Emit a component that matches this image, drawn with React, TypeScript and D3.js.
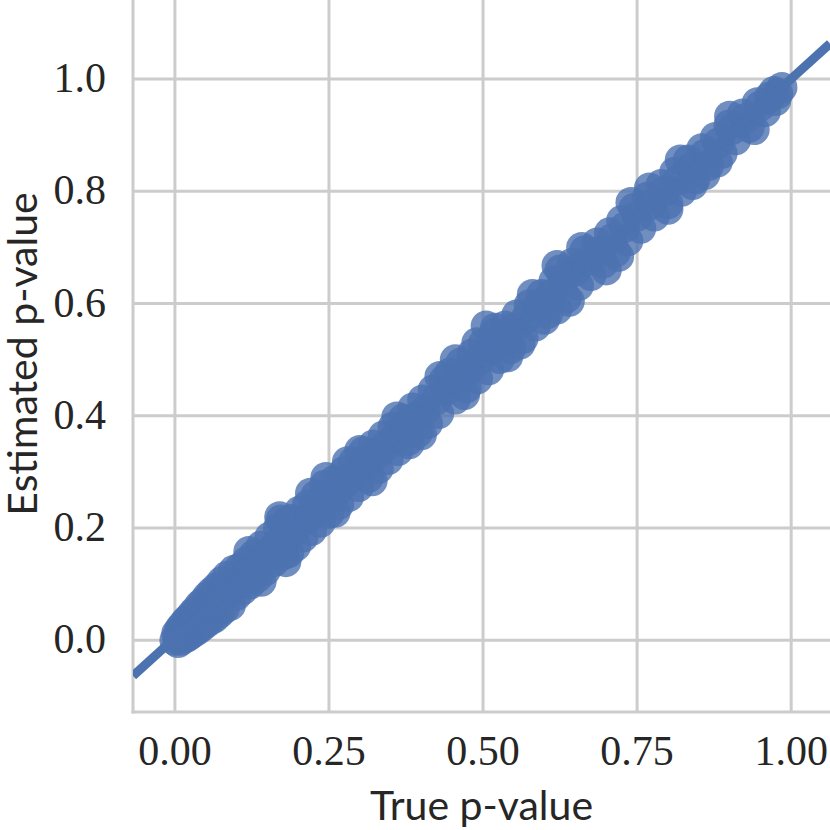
import React from "react";
import * as d3 from "d3";

const trueP = [0.000,0.003,0.005,0.008,0.010,0.012,0.015,0.018,0.020,0.022,0.025,0.028,0.030,0.033,0.036,0.040,0.043,0.046,0.050,0.053,0.057,0.060,0.064,0.068,0.072,0.076,0.080,0.085,0.090,0.095,0.100,0.105,0.110,0.116,0.122,0.128,0.134,0.140,0.147,0.154,0.161,0.168,0.172,0.176,0.180,0.185,0.190,0.196,0.202,0.208,0.215,0.222,0.229,0.236,0.243,0.250,0.258,0.266,0.274,0.282,0.290,0.298,0.306,0.314,0.322,0.330,0.338,0.346,0.354,0.362,0.370,0.378,0.386,0.394,0.402,0.410,0.419,0.428,0.437,0.446,0.455,0.464,0.473,0.482,0.491,0.500,0.509,0.518,0.527,0.536,0.545,0.555,0.565,0.575,0.585,0.595,0.605,0.615,0.625,0.635,0.645,0.655,0.665,0.675,0.685,0.695,0.705,0.715,0.725,0.735,0.745,0.756,0.767,0.778,0.789,0.800,0.811,0.822,0.833,0.844,0.855,0.866,0.877,0.888,0.899,0.910,0.921,0.932,0.945,0.958,0.972,0.978,
  0.006,0.014,0.024,0.034,0.045,0.055,0.066,0.078,0.088,0.098,0.108,0.119,0.131,0.143,0.157,0.165,0.178,0.193,0.205,0.219,0.233,0.247,0.262,0.278,0.294,0.310,0.326,0.342,0.358,0.374,0.390,0.406,0.424,0.441,0.459,0.477,0.495,0.513,0.531,0.550,0.570,0.590,0.610,0.630,0.650,0.670,0.690,0.710,0.730,0.750,0.772,0.794,0.816,0.838,0.860,0.882,0.904,0.926,0.950,0.965,
  0.180,0.170,0.245,0.455,0.505,0.600,0.540,0.700,0.620,0.860,0.975,0.985,
  0.120,0.140,0.220,0.260,0.300,0.320,0.360,0.400,0.430,0.470,0.520,0.560,0.580,0.640,0.660,0.720,0.740,0.800,0.820,0.880,0.900,0.940,0.280,0.380,0.490,0.620,0.770,0.840];

const estP = [0.000,0.012,-0.004,0.020,0.000,0.026,0.004,0.034,0.006,0.038,0.010,0.046,0.014,0.052,0.018,0.062,0.024,0.068,0.030,0.078,0.036,0.086,0.040,0.094,0.048,0.104,0.056,0.114,0.062,0.124,0.080,0.128,0.090,0.140,0.100,0.152,0.112,0.168,0.124,0.184,0.140,0.200,0.214,0.152,0.210,0.156,0.215,0.168,0.230,0.184,0.240,0.196,0.258,0.210,0.276,0.226,0.284,0.242,0.300,0.256,0.318,0.274,0.336,0.290,0.348,0.306,0.364,0.322,0.380,0.338,0.394,0.356,0.414,0.370,0.428,0.386,0.446,0.404,0.464,0.476,0.430,0.494,0.450,0.510,0.466,0.528,0.482,0.546,0.502,0.560,0.520,0.580,0.538,0.598,0.560,0.616,0.582,0.640,0.660,0.610,0.672,0.632,0.694,0.650,0.708,0.672,0.726,0.692,0.748,0.712,0.770,0.734,0.790,0.756,0.812,0.778,0.834,0.800,0.856,0.822,0.876,0.846,0.896,0.868,0.918,0.892,0.938,0.914,0.958,0.942,0.978,0.974,
  0.010,0.012,0.022,0.036,0.044,0.058,0.066,0.080,0.092,0.096,0.112,0.120,0.134,0.146,0.160,0.170,0.182,0.194,0.212,0.222,0.238,0.252,0.266,0.282,0.300,0.316,0.330,0.346,0.362,0.380,0.396,0.410,0.428,0.446,0.464,0.482,0.500,0.520,0.536,0.556,0.574,0.596,0.616,0.640,0.658,0.676,0.694,0.716,0.736,0.756,0.776,0.800,0.820,0.842,0.866,0.886,0.910,0.930,0.952,0.968,
  0.140,0.220,0.290,0.500,0.560,0.572,0.505,0.660,0.668,0.830,0.962,0.985,
  0.158,0.105,0.262,0.228,0.338,0.284,0.398,0.366,0.470,0.438,0.556,0.528,0.616,0.604,0.700,0.684,0.780,0.768,0.856,0.852,0.934,0.910,0.318,0.350,0.530,0.590,0.806,0.812];

const xTicks = [0, 0.25, 0.5, 0.75, 1.0];
const xTickLabels = ["0.00", "0.25", "0.50", "0.75", "1.00"];
const yTicks = [0, 0.2, 0.4, 0.6, 0.8, 1.0];
const yTickLabels = ["0.0", "0.2", "0.4", "0.6", "0.8", "1.0"];

const xLabel = "True p-value";
const yLabel = "Estimated p-value";

export default function App() {
  const W = 830, H = 830;
  const left = 133, right = 830, top = 0, bottom = 712;
  const x = d3.scaleLinear().domain([-0.068, 1.063]).range([left, right]);
  const y = d3.scaleLinear().domain([-0.128, 1.141]).range([bottom, top]);

  // least squares fit (regression line)
  const mx = d3.mean(trueP)!;
  const my = d3.mean(estP)!;
  let sxy = 0, sxx = 0;
  trueP.forEach((v, i) => { sxy += (v - mx) * (estP[i] - my); sxx += (v - mx) * (v - mx); });
  const slope = sxy / sxx;
  const intercept = my - slope * mx;
  const [x0, x1] = x.domain();
  const lineGen = d3.line<number>().x(d => x(d)).y(d => y(intercept + slope * d));

  const grid = "#cccccc";
  const blue = "#4c72b0";
  const serif = "'Liberation Serif', 'DejaVu Serif', serif";
  const sans = "Lato, 'Open Sans', sans-serif";

  return (
    <svg width={W} height={H} style={{ position: "fixed", left: 0, top: 0, background: "#fff" }}>
      <defs>
        <clipPath id="plotclip">
          <rect x={left} y={top} width={right - left} height={bottom - top} />
        </clipPath>
      </defs>
      <rect x={0} y={0} width={W} height={H} fill="#fff" />
      {xTicks.map((t, i) => (
        <line key={"gx" + i} x1={x(t)} x2={x(t)} y1={top} y2={bottom} stroke={grid} strokeWidth={3} />
      ))}
      {yTicks.map((t, i) => (
        <line key={"gy" + i} x1={left} x2={right} y1={y(t)} y2={y(t)} stroke={grid} strokeWidth={3} />
      ))}
      <line x1={left} x2={left} y1={top} y2={bottom + 1.5} stroke={grid} strokeWidth={3} />
      <line x1={left - 1.5} x2={right} y1={bottom} y2={bottom} stroke={grid} strokeWidth={3} />
      <g clipPath="url(#plotclip)">
        {trueP.map((v, i) => (
          <circle key={"p" + i} cx={x(v)} cy={y(estP[i])} r={15.5} fill={blue} fillOpacity={0.8} />
        ))}
        <path d={lineGen([x0, x1]) || ""} stroke={blue} strokeWidth={9} fill="none" />
      </g>
      {xTicks.map((t, i) => (
        <text key={"tx" + i} x={x(t)} y={765} textAnchor="middle" fontFamily={serif} fontSize={42} fill="#262626">
          {xTickLabels[i]}
        </text>
      ))}
      {yTicks.map((t, i) => (
        <text key={"ty" + i} x={106} y={y(t) + 13} textAnchor="end" fontFamily={serif} fontSize={42} fill="#262626">
          {yTickLabels[i]}
        </text>
      ))}
      <text x={(left + right) / 2} y={820} textAnchor="middle" fontFamily={sans} fontSize={41} fill="#262626">
        {xLabel}
      </text>
      <text transform={`translate(37, 354) rotate(-90)`} textAnchor="middle" fontFamily={sans} fontSize={41} fill="#262626">
        {yLabel}
      </text>
    </svg>
  );
}
